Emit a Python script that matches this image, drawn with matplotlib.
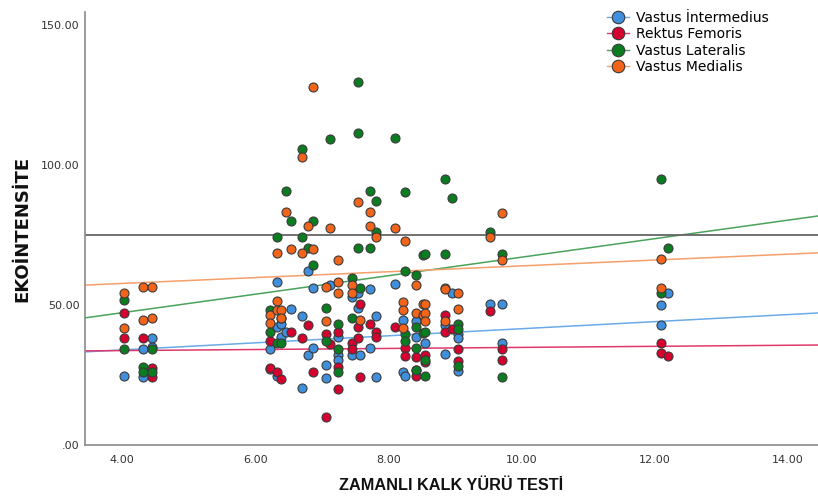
import numpy as np
import matplotlib
matplotlib.use("Agg")
from matplotlib import pyplot as plt
from matplotlib.lines import Line2D

# Timed Up and Go test (x) vs echo intensity (y), one group per muscle
vi_x = [4.03, 4.32, 4.32, 4.45, 4.45, 6.22, 6.22, 6.33, 6.33, 6.33, 6.39, 6.39, 6.46, 6.53,
        6.70, 6.70, 6.79, 6.79, 6.87, 6.87, 7.06, 7.06, 7.13, 7.25, 7.25, 7.25, 7.45, 7.45,
        7.55, 7.55, 7.58, 7.72, 7.72, 7.81, 7.81, 8.10, 8.22, 8.22, 8.25, 8.41, 8.41, 8.41,
        8.55, 8.85, 8.85, 8.96, 9.05, 9.05, 9.05, 9.52, 9.70, 9.70, 12.09, 12.09, 12.20]
vi_y = [24.6, 34.3, 24.4, 38.2, 35.0, 34.3, 27.0, 58.3, 42.3, 24.8, 43.1, 38.5, 40.2, 48.6,
        46.2, 20.3, 62.3, 32.1, 56.0, 34.5, 28.6, 24.0, 57.1, 38.5, 32.1, 30.3, 32.1, 52.7,
        54.4, 48.8, 32.1, 55.6, 34.5, 46.1, 24.4, 57.4, 44.6, 26.2, 24.8, 44.4, 38.7, 26.8,
        36.3, 42.9, 32.4, 54.4, 39.5, 38.3, 26.5, 50.4, 50.4, 36.3, 50.0, 42.9, 54.2]

rf_x = [4.03, 4.03, 4.32, 4.45, 4.45, 6.22, 6.22, 6.33, 6.39, 6.53, 6.70, 6.79, 6.87, 7.06,
        7.06, 7.13, 7.25, 7.25, 7.25, 7.45, 7.45, 7.55, 7.55, 7.58, 7.58, 7.72, 7.81, 7.81,
        8.10, 8.25, 8.25, 8.41, 8.41, 8.55, 8.55, 8.85, 8.85, 8.96, 9.05, 9.05, 9.52, 9.70,
        9.70, 12.09, 12.09, 12.20]
rf_y = [47.3, 38.2, 38.2, 27.4, 24.2, 37.3, 27.4, 26.2, 23.5, 40.2, 38.1, 42.9, 26.2, 39.5,
        10.1, 35.9, 40.5, 28.0, 20.0, 36.3, 34.3, 42.3, 38.1, 50.4, 24.4, 43.1, 40.5, 38.5,
        42.0, 34.5, 31.9, 31.5, 24.6, 32.1, 29.5, 46.4, 40.2, 41.4, 34.3, 30.1, 47.9, 34.3,
        30.4, 36.5, 32.7, 31.9]

vl_x = [4.03, 4.03, 4.32, 4.32, 4.45, 4.45, 6.22, 6.22, 6.33, 6.33, 6.39, 6.39, 6.46, 6.53,
        6.70, 6.70, 6.79, 6.87, 6.87, 7.06, 7.06, 7.13, 7.25, 7.25, 7.25, 7.45, 7.45, 7.55,
        7.55, 7.55, 7.58, 7.72, 7.72, 7.81, 7.81, 8.10, 8.25, 8.25, 8.25, 8.25, 8.41, 8.41,
        8.41, 8.41, 8.52, 8.52, 8.55, 8.55, 8.55, 8.55, 8.85, 8.85, 8.96, 9.05, 9.05, 9.05,
        9.52, 9.70, 9.70, 12.09, 12.09, 12.20]
vl_y = [51.8, 34.3, 28.0, 26.1, 34.3, 26.0, 48.2, 40.2, 74.4, 36.5, 45.2, 36.5, 90.8, 80.1,
        105.6, 74.4, 70.2, 80.1, 64.2, 48.8, 37.3, 109.4, 43.2, 34.3, 26.2, 59.5, 45.5, 70.2,
        111.5, 129.5, 56.2, 70.2, 90.8, 76.2, 87.1, 109.5, 90.5, 62.1, 39.6, 37.1, 60.7, 42.3,
        34.5, 26.8, 67.9, 39.9, 68.1, 40.2, 30.4, 24.6, 68.1, 94.9, 88.1, 43.2, 41.3, 28.3,
        76.2, 68.2, 24.4, 94.9, 54.4, 70.2]

vm_x = [4.03, 4.03, 4.32, 4.32, 4.45, 4.45, 6.22, 6.22, 6.33, 6.33, 6.33, 6.39, 6.39, 6.46,
        6.53, 6.70, 6.70, 6.79, 6.87, 6.87, 7.06, 7.06, 7.13, 7.25, 7.25, 7.25, 7.45, 7.45,
        7.55, 7.58, 7.72, 7.72, 7.81, 8.10, 8.22, 8.22, 8.22, 8.25, 8.41, 8.41, 8.52, 8.52,
        8.55, 8.55, 8.55, 8.85, 8.85, 8.85, 9.05, 9.05, 9.52, 9.70, 9.70, 12.09, 12.09]
vm_y = [54.4, 41.8, 56.5, 44.6, 56.5, 45.2, 46.4, 43.5, 68.4, 51.4, 48.2, 48.2, 45.5, 83.1,
        70.0, 102.7, 68.4, 78.3, 128.0, 70.0, 56.3, 44.4, 77.6, 66.0, 58.1, 54.4, 57.1, 54.4,
        86.9, 44.6, 78.3, 83.1, 74.4, 77.6, 51.2, 48.2, 41.9, 72.9, 47.3, 57.1, 50.4, 46.4,
        50.4, 47.0, 44.4, 56.0, 44.4, 55.8, 54.4, 48.5, 74.2, 83.0, 66.1, 66.3, 56.0]

# fit lines per group: intercept, slope
fit_intercept = [28.9, 32.95, 34.0, 53.5]
fit_slope = [1.262, 0.19, 3.306, 1.045]
ref_y = 75

names = ["Vastus İntermedius", "Rektus Femoris", "Vastus Lateralis", "Vastus Medialis"]
dot_colors = ["#3f8fdc", "#d6002f", "#0a7d20", "#f26419"]
line_colors = ["#6aaae8", "#e0386a", "#4aa35a", "#f5a06a"]
groups = [(vi_x, vi_y), (rf_x, rf_y), (vl_x, vl_y), (vm_x, vm_y)]

fig = plt.figure(figsize=(8.18, 4.97), dpi=100)
ax = fig.add_axes([85 / 818, 1 - 445 / 497, 1 - 85 / 818, (445 - 12) / 497])
ax.set_xlim(3.444, 14.45)
ax.set_ylim(0, 154.6)

xs = np.array(ax.get_xlim())
for i in range(4):
    ax.plot(xs, fit_intercept[i] + fit_slope[i] * xs, color=line_colors[i], lw=1.1, zorder=2)
ax.axhline(ref_y, color="#666666", lw=1.3, zorder=2)

for i, (gx, gy) in enumerate(groups):
    ax.scatter(gx, gy, s=42, c=dot_colors[i], edgecolors="#3a3a3a", linewidths=0.8, zorder=3)

ax.set_xticks([4, 6, 8, 10, 12, 14])
ax.set_xticklabels(["4.00", "6.00", "8.00", "10.00", "12.00", "14.00"])
ax.set_yticks([0, 50, 100, 150])
ax.set_yticklabels([".00", "50.00", "100.00", "150.00"])
ax.tick_params(axis="x", length=0, labelsize=8, colors="#333333", pad=7)
ax.tick_params(axis="y", length=0, labelsize=8, colors="#333333", pad=4)
for s in ["top", "right"]:
    ax.spines[s].set_visible(False)
for s in ["left", "bottom"]:
    ax.spines[s].set_color("#8a8a8a")
    ax.spines[s].set_linewidth(1.2)

fig.text((85 + 818) / 2 / 818, 1 - 486 / 497, "ZAMANLI KALK YÜRÜ TESTİ", ha="center", va="center",
         family=["Liberation Sans Narrow", "Liberation Sans", "DejaVu Sans"], fontsize=11.7,
         fontweight="bold", color="#111111")
fig.text(22 / 818, 1 - 229 / 497, "EKOİNTENSİTE", ha="center", va="center", rotation=90,
         family=["DejaVu Sans"], fontsize=13, fontweight="bold", color="#111111")

handles = [Line2D([0], [0], color=line_colors[i], lw=1.0, marker="o", markersize=9,
                  markerfacecolor=dot_colors[i], markeredgecolor="#3a3a3a", markeredgewidth=0.8)
           for i in range(4)]
fig.legend(handles, names, loc="upper left", bbox_to_anchor=(601 / 818, 1 - 5 / 497),
           frameon=False, fontsize=10, handlelength=1.6, handletextpad=0.5, labelspacing=0.18,
           borderaxespad=0)

fig.savefig("out.png", dpi=100)
